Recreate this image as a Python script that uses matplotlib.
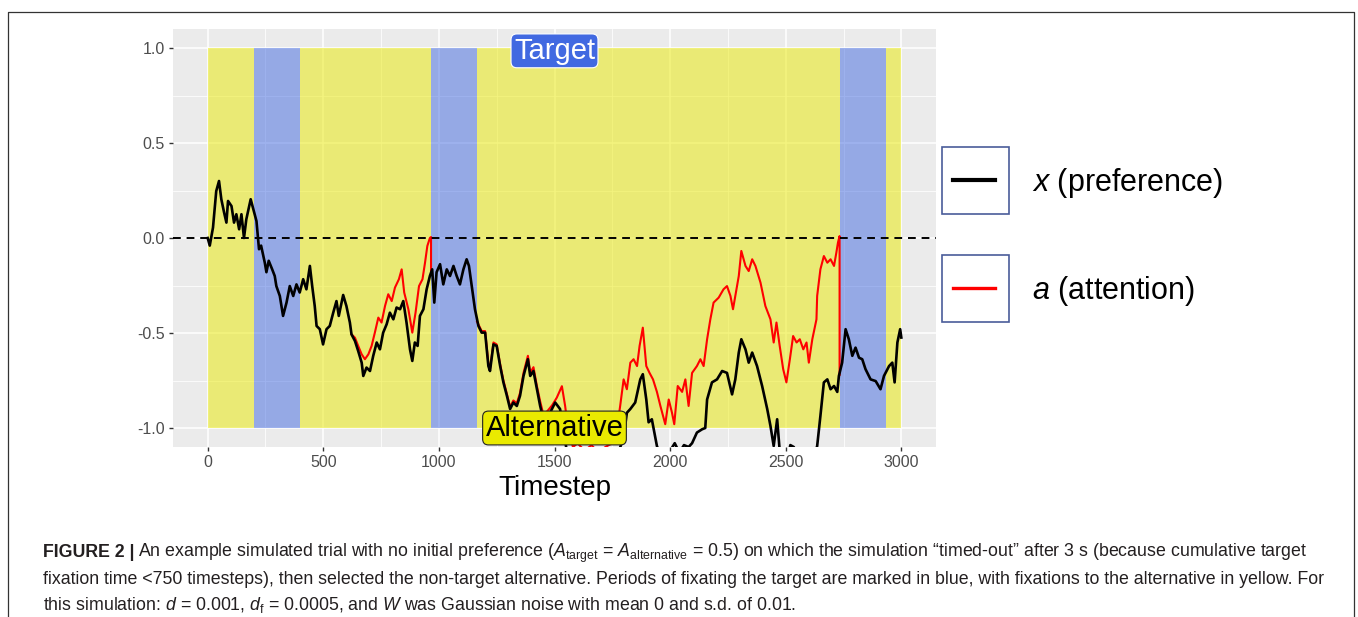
import matplotlib
matplotlib.use("Agg")
import matplotlib.pyplot as plt
from matplotlib.patches import Rectangle
from matplotlib.lines import Line2D
from matplotlib.ticker import FixedLocator, FixedFormatter

plt.rcParams['font.family'] = ['Liberation Sans', 'DejaVu Sans']
plt.rcParams['mathtext.fontset'] = 'custom'
plt.rcParams['mathtext.rm'] = 'Liberation Sans'
plt.rcParams['mathtext.it'] = 'Liberation Sans:italic'
plt.rcParams['mathtext.bf'] = 'Liberation Sans:bold'

NAN = float("nan")

# ---------------- data ----------------
# fixation periods (timesteps) and whether the target was fixated
fix_start = [0, 200, 400, 966, 1165, 2733, 2932]
fix_end = [200, 400, 966, 1165, 2733, 2932, 3000]
fix_target = [False, True, False, True, False, True, False]

# preference x (black)
x_t = [0, 9, 23, 37, 49, 59, 71, 81, 88, 103, 114, 124, 136, 146, 157, 167, 186, 201, 211, 222,
       231, 247, 254, 264, 279, 290, 297, 312, 326, 341, 355, 370, 384, 398, 413, 427, 442, 452, 463, 471,
       485, 499, 514, 528, 543, 557, 567, 586, 600, 615, 622, 637, 651, 666, 673, 687, 702, 716, 731, 745,
       759, 774, 788, 803, 817, 832, 846, 860, 875, 885, 896, 908, 918, 933, 947, 961, 971, 980, 990, 1005,
       1019, 1034, 1048, 1063, 1077, 1091, 1106, 1120, 1130, 1142, 1156, 1171, 1185, 1200, 1214, 1221, 1236, 1250, 1265, 1279,
       1294, 1308, 1322, 1337, 1351, 1366, 1385, 1395, 1409, 1424, 1438, 1452, 1481, 1503, 1524, 1540, 1553, 1580, 1620, 1660,
       1700, 1740, 1770, 1799, 1813, 1828, 1849, 1871, 1882, 1897, 1907, 1921, 1943, 1970, 2000, 2020, 2040, 2060, 2080, 2095,
       2116, 2138, 2152, 2160, 2181, 2203, 2225, 2246, 2268, 2282, 2297, 2308, 2326, 2340, 2355, 2376, 2398, 2420, 2434, 2448,
       2463, 2474, 2500, 2520, 2535, 2550, 2580, 2610, 2636, 2650, 2665, 2680, 2694, 2709, 2723, 2730, 2744, 2759, 2773, 2788,
       2802, 2817, 2831, 2845, 2867, 2889, 2910, 2925, 2947, 2961, 2971, 2983, 2995, 3000]
x_vals = [0.0, -0.04, 0.055, 0.247, 0.30, 0.204, 0.134, 0.081, 0.195, 0.168, 0.081, 0.125, 0.046, 0.125, 0.0, 0.098, 0.204, 0.134, 0.089, -0.059,
          -0.04, -0.13, -0.18, -0.12, -0.165, -0.2, -0.253, -0.305, -0.41, -0.34, -0.253, -0.305, -0.244, -0.287, -0.217, -0.27, -0.147, -0.253, -0.358, -0.463,
          -0.48, -0.56, -0.48, -0.463, -0.393, -0.332, -0.41, -0.30, -0.358, -0.445, -0.507, -0.542, -0.595, -0.656, -0.726, -0.682, -0.70, -0.62, -0.55, -0.586,
          -0.498, -0.454, -0.393, -0.428, -0.366, -0.375, -0.332, -0.445, -0.586, -0.647, -0.55, -0.568, -0.41, -0.375, -0.27, -0.2, -0.165, -0.34, -0.18, -0.138,
          -0.244, -0.165, -0.2, -0.147, -0.2, -0.244, -0.165, -0.112, -0.147, -0.253, -0.375, -0.463, -0.498, -0.498, -0.674, -0.70, -0.56, -0.568, -0.674, -0.76,
          -0.83, -0.90, -0.866, -0.884, -0.83, -0.726, -0.638, -0.726, -0.70, -0.796, -0.884, -0.954, -0.919, -0.866, -0.90, -1.02, -1.12, -1.2, -1.28, -1.3,
          -1.25, -1.2, -1.15, -1.05, -0.92, -0.90, -0.866, -0.744, -0.717, -0.85, -0.97, -0.954, -1.095, -1.18, -1.12, -1.08, -1.13, -1.09, -1.1, -1.08,
          -1.024, -1.007, -1.0, -0.85, -0.76, -0.744, -0.70, -0.71, -0.823, -0.744, -0.603, -0.533, -0.586, -0.656, -0.603, -0.674, -0.779, -0.90, -0.989, -1.095,
          -0.954, -1.12, -1.2, -1.09, -1.1, -1.15, -1.25, -1.2, -1.095, -0.937, -0.76, -0.744, -0.796, -0.779, -0.81, -0.726, -0.656, -0.48, -0.533, -0.62,
          -0.577, -0.63, -0.638, -0.69, -0.744, -0.753, -0.796, -0.726, -0.674, -0.656, -0.76, -0.55, -0.48, -0.524]

# attention a (red), shown where it departs from x (NaN = gap while it equals x)
a_t = [622, 637, 651, 666, 680, 695, 709, 723, 738, 752, 767, 781, 796, 810, 827, 839, 850, 868, 885, 899,
       914, 929, 940, 950, 961, 966, 966, NAN,
       1165, 1185, 1200, 1214, 1221, 1236, 1250, 1265, 1279, 1294, 1308, 1322, 1337, 1351, 1366, 1385, 1395, 1409, 1424,
       1438, 1452, 1470, 1490, 1510, 1532, 1546, 1560, 1580, 1600, 1630, 1660, 1690, 1720, 1750, 1770, 1784, 1799, 1813,
       1828, 1842, 1857, 1868, 1882, 1897, 1911, 1926, 1943, 1958, 1979, 1994, 2008, 2018, 2033, 2052, 2066, 2080, 2095,
       2116, 2131, 2145, 2160, 2174, 2188, 2210, 2231, 2246, 2261, 2272, 2287, 2297, 2308, 2326, 2340, 2355, 2369, 2391,
       2412, 2434, 2448, 2460, 2474, 2489, 2503, 2518, 2532, 2547, 2561, 2576, 2590, 2600, 2615, 2633, 2636, 2650, 2665,
       2680, 2694, 2709, 2719, 2726, 2733, 2733]
a_vals = [-0.507, -0.525, -0.568, -0.612, -0.638, -0.612, -0.568, -0.498, -0.419, -0.445, -0.358, -0.296, -0.332, -0.261, -0.217, -0.165, -0.287, -0.375, -0.498, -0.393,
          -0.253, -0.217, -0.13, -0.042, 0.0, 0.005, -0.17, NAN,
          -0.44, -0.49, -0.49, -0.66, -0.69, -0.55, -0.56, -0.665, -0.75, -0.82, -0.89, -0.855, -0.87, -0.815, -0.71, -0.62, -0.71, -0.68, -0.78,
          -0.86, -0.93, -0.91, -0.88, -0.84, -0.78, -0.884, -1.02, -1.1, -1.08, -1.12, -1.09, -1.13, -1.1, -1.08, -1.007, -0.884, -0.744, -0.796,
          -0.656, -0.638, -0.674, -0.568, -0.472, -0.674, -0.71, -0.744, -0.81, -0.884, -0.98, -0.85, -0.919, -0.98, -0.779, -0.81, -0.744, -0.884, -0.71,
          -0.674, -0.638, -0.674, -0.533, -0.428, -0.34, -0.314, -0.27, -0.253, -0.305, -0.375, -0.27, -0.2, -0.068, -0.147, -0.174, -0.112, -0.147, -0.235,
          -0.358, -0.428, -0.55, -0.445, -0.568, -0.69, -0.76, -0.638, -0.516, -0.55, -0.533, -0.586, -0.55, -0.656, -0.533, -0.428, -0.305, -0.165, -0.095,
          -0.13, -0.112, -0.147, -0.077, -0.024, 0.01, -0.72]

x_ticks = [0, 500, 1000, 1500, 2000, 2500, 3000]
y_ticks = [-1.0, -0.5, 0.0, 0.5, 1.0]
y_ticklabels = ["-1.0", "-0.5", "0.0", "0.5", "1.0"]
legend_labels = ["$x$ (preference)", "$a$ (attention)"]

# ---------------- style ----------------
COL_X = "black"
COL_A = "#FF0000"
COL_TARGET = "#4169E1"
COL_ALT = "#EAEA00"

W, H = 1358, 617
fig = plt.figure(figsize=(W / 100, H / 100), dpi=100)

def fx(px):
    return px / W

def fy(py):
    return 1 - py / H

ax = fig.add_axes([fx(173), fy(447), fx(936) - fx(173), fy(29) - fy(447)])
ax.set_facecolor("#EBEBEB")
for s in ax.spines.values():
    s.set_visible(False)
ax.set_xlim(-150, 3150)
ax.set_ylim(-1.1, 1.1)
ax.xaxis.set_major_locator(FixedLocator(x_ticks))
ax.xaxis.set_minor_locator(FixedLocator([250, 750, 1250, 1750, 2250, 2750]))
ax.yaxis.set_major_locator(FixedLocator(y_ticks))
ax.yaxis.set_major_formatter(FixedFormatter(y_ticklabels))
ax.yaxis.set_minor_locator(FixedLocator([-0.75, -0.25, 0.25, 0.75]))
ax.set_axisbelow(True)
ax.grid(which="major", color="white", lw=1.1)
ax.grid(which="minor", color="white", lw=0.55)
ax.tick_params(which="major", length=3, width=1, color="#333333", labelcolor="#4D4D4D",
               labelsize=11.5, pad=3)
ax.tick_params(which="minor", length=0)

# fixation rectangles
for s, e, tgt in zip(fix_start, fix_end, fix_target):
    ax.add_patch(Rectangle((s, -1), e - s, 2, facecolor=COL_TARGET if tgt else COL_ALT,
                           alpha=0.5, lw=0, zorder=1))

ax.plot(a_t, a_vals, color=COL_A, lw=1.5, zorder=2)
ax.plot(x_t, x_vals, color=COL_X, lw=1.9, zorder=3)
ax.axhline(0, color="black", lw=1.4, ls=(0, (4, 3)), zorder=4)

ax.text(1500, 0.985, "Target", ha="center", va="center", fontsize=21, color="white", zorder=6,
        bbox=dict(boxstyle="round,pad=0.1,rounding_size=0.2", fc=COL_TARGET, ec="white", lw=0.8))
ax.text(1500, -1.0, "Alternative", ha="center", va="center", fontsize=21, color="black", zorder=6,
        bbox=dict(boxstyle="round,pad=0.1,rounding_size=0.2", fc=COL_ALT, ec="#222222", lw=0.8))

fig.text(fx(555), fy(488), "Timestep", ha="center", va="center", fontsize=20, color="black")

# legend (custom boxes)
box_tops = [147, 255]
leg_cols = [COL_X, COL_A]
leg_lw = [3.0, 2.4]
for top, col, lab, lw in zip(box_tops, leg_cols, legend_labels, leg_lw):
    fig.add_artist(Rectangle((fx(942), fy(top + 67)), fx(1009) - fx(942), fy(top) - fy(top + 67),
                             transform=fig.transFigure, fill=False, ec="#4A5C9A", lw=1.2))
    fig.add_artist(Line2D([fx(953), fx(995)], [fy(top + 33), fy(top + 33)],
                          transform=fig.transFigure, color=col, lw=lw))
    fig.text(fx(1032), fy(top + 36), lab, fontsize=22, va="center", ha="left", color="black")

# outer frame
frame_col = "#333333"
fig.add_artist(Line2D([fx(8), fx(8), fx(1354), fx(1354)], [0, fy(12), fy(12), 0],
                      transform=fig.transFigure, color=frame_col, lw=0.9))

# caption
cap_size = 12.8
cap_col = "#231F20"
t1 = fig.text(fx(43), fy(557), "FIGURE 2 |", fontsize=cap_size, fontweight="bold", color=cap_col,
              va="baseline")
fig.canvas.draw()
bb = t1.get_window_extent()
fig.text(bb.x1 / W + fx(4),
         fy(557),
         r"An example simulated trial with no initial preference ($A_{\mathrm{target}}$ = $A_{\mathrm{alternative}}$ = 0.5) on which the simulation “timed-out” after 3 s (because cumulative target",
         fontsize=cap_size, color=cap_col, va="baseline")
fig.text(fx(43), fy(584),
         "fixation time <750 timesteps), then selected the non-target alternative. Periods of fixating the target are marked in blue, with fixations to the alternative in yellow. For",
         fontsize=cap_size, color=cap_col, va="baseline")
fig.text(fx(43), fy(610),
         r"this simulation: $d$ = 0.001, $d_{\mathrm{f}}$ = $\mathit{0.0005}$, and $W$ was Gaussian noise with mean 0 and s.d. of 0.01.",
         fontsize=cap_size, color=cap_col, va="baseline")

fig.savefig("out.png", dpi=100)
